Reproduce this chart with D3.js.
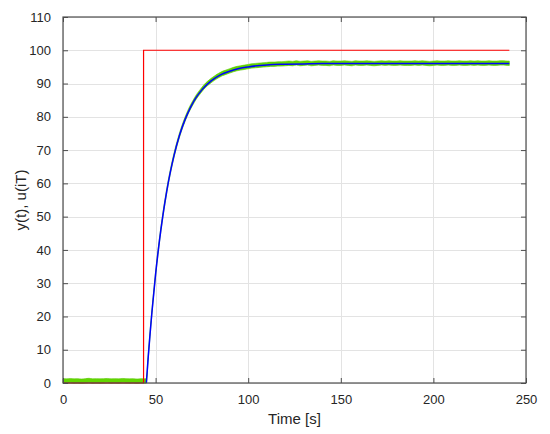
<!DOCTYPE html>
<html>
<head>
<meta charset="utf-8">
<script src="https://cdn.jsdelivr.net/npm/d3@7"></script>
<style>
  html, body { margin: 0; padding: 0; background: #fff; }
  svg { display: block; font-family: "Liberation Sans", Arial, Helvetica, sans-serif; }
</style>
</head>
<body>
<svg id="chart" width="550" height="434"></svg>
<script>
// ---- data ----
const xTicks = [0, 50, 100, 150, 200, 250];
const yTicks = [0, 10, 20, 30, 40, 50, 60, 70, 80, 90, 100, 110];

// reference input u(iT) (red step)
const redT = [0, 43.5, 43.5, 241];
const redY = [0, 0, 100, 100];

// model output y(t) (blue)
const blueT = [45, 46, 47, 48, 50, 52, 54, 56, 58, 60, 63, 66, 69, 72, 75, 80, 85, 90, 95, 100, 110, 120, 130, 140, 160, 180, 200, 220, 241];
const blueY = [0, 7.7, 14.7, 21.2, 32.7, 42.4, 50.6, 57.6, 63.5, 68.5, 74.6, 79.3, 83.0, 85.9, 88.1, 90.8, 92.6, 93.7, 94.5, 95.0, 95.6, 95.8, 95.9, 96.0, 96.0, 96.0, 96.0, 96.0, 96.0];

// measured output (green, noisy)
const greenT = [0, 2, 4, 6, 8, 10, 12, 14, 16, 18, 20, 22, 24, 26, 28, 30, 32, 34, 36, 38, 40, 42, 44,
  45, 46, 48, 50, 52, 54, 56, 58, 60, 62, 64, 66, 68, 70, 72, 74, 76, 78, 80, 82, 84, 86, 88, 90,
  92, 94, 96, 98, 100, 102, 104, 106, 108, 110, 112, 114, 116, 118, 120,
  122, 124, 126, 128, 130, 132, 134, 136, 138, 140, 142, 144, 146, 148, 150, 152, 154, 156, 158, 160,
  162, 164, 166, 168, 170, 172, 174, 176, 178, 180, 182, 184, 186, 188, 190, 192, 194, 196, 198, 200,
  202, 204, 206, 208, 210, 212, 214, 216, 218, 220, 222, 224, 226, 228, 230, 232, 234, 236, 238, 240, 241];
const greenY = [0.65, 0.6, 0.7, 0.6, 0.65, 0.55, 0.65, 0.75, 0.6, 0.65, 0.6, 0.65, 0.7, 0.6, 0.65, 0.6, 0.7, 0.65, 0.6, 0.65, 0.55, 0.65, 0.6,
  0.6, 7.8, 21.3, 32.8, 42.5, 50.7, 57.7, 63.6, 68.6, 72.8, 76.4, 79.4, 82.0, 84.1, 86.0, 87.5, 88.9, 90.0, 90.9, 91.7, 92.4, 93.0, 93.4, 93.8,
  94.2, 94.5, 94.7, 94.9, 95.1, 95.3, 95.4, 95.5, 95.6, 95.7, 95.8, 95.8, 95.9, 95.9, 96.0,
  96.1, 96.0, 96.2, 96.0, 96.1, 96.2, 96.0, 96.1, 96.2, 96.1, 96.1, 96.0, 96.2, 96.1, 96.1, 96.2, 96.1, 96.0, 96.2, 96.1,
  96.1, 96.2, 96.1, 96.0, 96.1, 96.2, 96.1, 96.2, 96.1, 96.1, 96.2, 96.1, 96.1, 96.1, 96.2, 96.1, 96.2, 96.1, 96.0, 96.1,
  96.2, 96.1, 96.1, 96.2, 96.1, 96.1, 96.2, 96.1, 96.1, 96.2, 96.1, 96.2, 96.1, 96.1, 96.2, 96.1, 96.1, 96.2, 96.2, 96.1, 96.1];

const xLabel = "Time [s]";
const yLabel = "y(t), u(iT)";

// ---- layout ----
const svg = d3.select("#chart");
const L = 63, R = 526, T = 17, B = 383;
const x = d3.scaleLinear().domain([0, 250]).range([L, R]);
const y = d3.scaleLinear().domain([0, 110]).range([B, T]);

// grid
const grid = svg.append("g").attr("stroke", "#e3e3e3").attr("stroke-width", 1);
grid.selectAll(".gx").data(xTicks).join("line")
  .attr("x1", d => Math.round(x(d)) + 0.5).attr("x2", d => Math.round(x(d)) + 0.5)
  .attr("y1", T).attr("y2", B);
grid.selectAll(".gy").data(yTicks).join("line")
  .attr("y1", d => Math.round(y(d)) + 0.5).attr("y2", d => Math.round(y(d)) + 0.5)
  .attr("x1", L).attr("x2", R);

// series
const toPts = (ts, vs) => ts.map((t, i) => [t, vs[i]]);
const line = d3.line().x(d => x(d[0])).y(d => y(d[1]));
const smooth = d3.line().x(d => x(d[0])).y(d => y(d[1])).curve(d3.curveMonotoneX);

// noisy measurement drawn as a vertical band (vertical noise spread of ~4px)
const bandHalf = 2.2;
const band = d3.area().x(d => x(d[0]))
  .y0(d => y(d[1]) + bandHalf).y1(d => y(d[1]) - bandHalf)
  .curve(d3.curveMonotoneX);
svg.append("path").datum(toPts(greenT, greenY))
  .attr("d", band).attr("fill", "#62d600").attr("stroke", "#58c800").attr("stroke-width", 0.6);

svg.append("path").datum(toPts(redT, redY))
  .attr("d", line).attr("fill", "none")
  .attr("stroke", "#ff0000").attr("stroke-width", 1.2);
svg.append("path").datum(toPts(blueT, blueY))
  .attr("d", smooth).attr("fill", "none")
  .attr("stroke", "#0000ff").attr("stroke-width", 1.5);

// axes (box with inward ticks on all sides)
const axColor = "#4d4d4d";
const tickLen = 5;
const fmt = d3.format("d");
const styleAxis = g => {
  g.select(".domain").remove();
  g.selectAll(".tick line").attr("stroke", axColor);
  g.selectAll(".tick text").attr("fill", "#262626").attr("font-size", 13)
    .attr("font-family", "'Liberation Sans', Arial, Helvetica, sans-serif");
};
svg.append("g").attr("transform", `translate(0,${B})`)
  .call(d3.axisBottom(x).tickValues(xTicks).tickFormat(fmt).tickSizeInner(-tickLen).tickSizeOuter(0).tickPadding(12))
  .call(styleAxis);
svg.append("g").attr("transform", `translate(0,${T})`)
  .call(d3.axisTop(x).tickValues(xTicks).tickFormat("").tickSizeInner(-tickLen).tickSizeOuter(0))
  .call(styleAxis);
svg.append("g").attr("transform", `translate(${L},0)`)
  .call(d3.axisLeft(y).tickValues(yTicks).tickFormat(fmt).tickSizeInner(-tickLen).tickSizeOuter(0).tickPadding(12))
  .call(styleAxis);
svg.append("g").attr("transform", `translate(${R},0)`)
  .call(d3.axisRight(y).tickValues(yTicks).tickFormat("").tickSizeInner(-tickLen).tickSizeOuter(0))
  .call(styleAxis);

svg.append("rect").attr("x", L).attr("y", T).attr("width", R - L).attr("height", B - T)
  .attr("fill", "none").attr("stroke", axColor).attr("stroke-width", 1.2);

// axis labels
svg.append("text").attr("x", (L + R) / 2).attr("y", 424).attr("text-anchor", "middle")
  .attr("font-size", 15).attr("fill", "#262626").text(xLabel);
svg.append("text").attr("transform", `translate(26,${(T + B) / 2}) rotate(-90)`)
  .attr("text-anchor", "middle").attr("font-size", 15).attr("fill", "#262626").text(yLabel);
</script>
</body>
</html>
